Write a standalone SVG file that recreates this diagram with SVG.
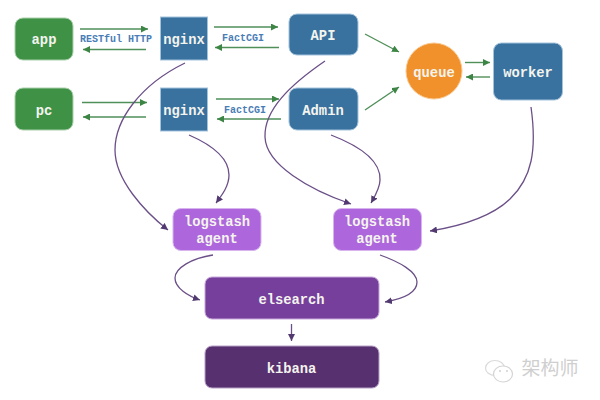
<svg xmlns="http://www.w3.org/2000/svg" width="600" height="400" viewBox="0 0 600 400">
<style>
text{font-family:"Liberation Mono","DejaVu Sans Mono",monospace;font-weight:700;text-anchor:middle}
.l{font-size:13.8px;fill:#f4f4ee}
.s{font-size:10px;fill:#4a7db5}
.g{fill:#3f9146;stroke:#a8d0aa;stroke-width:1}
.b{fill:#39719f;stroke:#a3c3dc;stroke-width:1}
.p{fill:#ad66dc;stroke:#d7b4ee;stroke-width:1}
.e{fill:#773f9c;stroke:#c8a8dc;stroke-width:1}
.k{fill:#57306f;stroke:#b8a0c8;stroke-width:1}
.a{fill:none;stroke:#4f8f58;stroke-width:1.400;marker-end:url(#ga)}
.c{fill:none;stroke:#6a4f88;stroke-width:1.300;marker-end:url(#pa)}
</style>
<defs>
<marker id="ga" markerUnits="userSpaceOnUse" markerWidth="8" markerHeight="7" refX="7" refY="3.5" orient="auto"><path d="M0,0L7,3.5L0,7z" fill="#3c8545"/></marker>
<marker id="pa" markerUnits="userSpaceOnUse" markerWidth="8" markerHeight="7" refX="7" refY="3.5" orient="auto"><path d="M0,0L7,3.5L0,7z" fill="#523a70"/></marker>
</defs>
<rect width="600" height="400" fill="#fff"/>
<g id="connectors">
<path class="a" d="M80,29H148"/><path class="a" d="M146,49.500H83"/>
<path class="a" d="M214,27H278"/><path class="a" d="M279,47.500H215"/>
<path class="a" d="M82,102.500H147"/><path class="a" d="M146,117H83"/>
<path class="a" d="M216,99H279"/><path class="a" d="M281,119H217"/>
<path class="a" d="M365,34L399,52"/><path class="a" d="M365,110L399,87"/>
<path class="a" d="M465,62.500H490"/><path class="a" d="M490,77H466"/>
<path class="c" d="M185,63C140,85 115,120 115,150C115,180 145,212 168,230"/>
<path class="c" d="M189,135C212,145 229,158 229,175C229,186 222,195 216,203"/>
<path class="c" d="M325,61C290,85 264,110 265,137C266,165 310,190 351,204"/>
<path class="c" d="M331,135C357,145 381,160 380,180C380,188 375,196 371,203"/>
<path class="c" d="M531,107C537,150 532,178 510,199C490,218 455,227 430,231"/>
<path class="c" d="M213,255C192,258 175,268 175,278C175,288 188,296 200,300"/>
<path class="c" d="M380,255C400,262 417,272 417,282C417,293 402,299 385,302"/>
<path class="c" d="M291.500,324V341"/>
</g>
<text class="s" x="116" y="42">RESTful HTTP</text>
<text class="s" x="243" y="41">FactCGI</text>
<text class="s" x="245" y="113">FactCGI</text>
<g id="app"><rect class="g" x="15" y="18" width="58" height="42" rx="8"/><text class="l" x="44" y="44">app</text></g>
<g id="pc"><rect class="g" x="15" y="88" width="58" height="42" rx="8"/><text class="l" x="44" y="115">pc</text></g>
<g id="nginx1"><rect class="b" x="160.500" y="17" width="47" height="43"/><text class="l" x="184" y="44">nginx</text></g>
<g id="nginx2"><rect class="b" x="160.500" y="88" width="47" height="43"/><text class="l" x="184" y="115">nginx</text></g>
<g id="api"><rect class="b" x="289" y="14" width="69" height="41" rx="8"/><text class="l" x="323" y="40">API</text></g>
<g id="admin"><rect class="b" x="289" y="88" width="69" height="42" rx="8"/><text class="l" x="323" y="115">Admin</text></g>
<g id="queue"><circle cx="434" cy="71" r="28" fill="#f0912b" stroke="#f8c890"/><text class="l" x="434" y="77">queue</text></g>
<g id="worker"><rect class="b" x="493.500" y="43" width="69" height="57" rx="8"/><text class="l" x="528" y="77">worker</text></g>
<g id="logstash1"><rect class="p" x="173" y="208.500" width="88" height="42" rx="8"/><text class="l" x="217" y="226">logstash</text><text class="l" x="217" y="243">agent</text></g>
<g id="logstash2"><rect class="p" x="333.500" y="208.500" width="88" height="42" rx="8"/><text class="l" x="377" y="226">logstash</text><text class="l" x="377" y="243">agent</text></g>
<g id="elsearch"><rect class="e" x="205" y="277" width="174" height="42" rx="7"/><text class="l" x="291.500" y="304">elsearch</text></g>
<g id="kibana"><rect class="k" x="205" y="346" width="174" height="42" rx="7"/><text class="l" x="291.500" y="373">kibana</text></g>
<g id="watermark">
<ellipse cx="495" cy="368" rx="9.500" ry="7.500" fill="none" stroke="#dadada" stroke-width="1.200"/>
<ellipse cx="503" cy="374" rx="9.500" ry="8" fill="#fff" stroke="#d4d4d4" stroke-width="1.200"/>
<circle cx="500" cy="371" r="1" fill="#d0d0d0"/><circle cx="507" cy="371" r="1" fill="#d0d0d0"/>
<text x="550" y="375" style='font-family:"Noto Sans CJK SC",sans-serif;font-weight:400;font-size:19px;fill:#cfcfcf'>架构师</text>
</g>
</svg>
